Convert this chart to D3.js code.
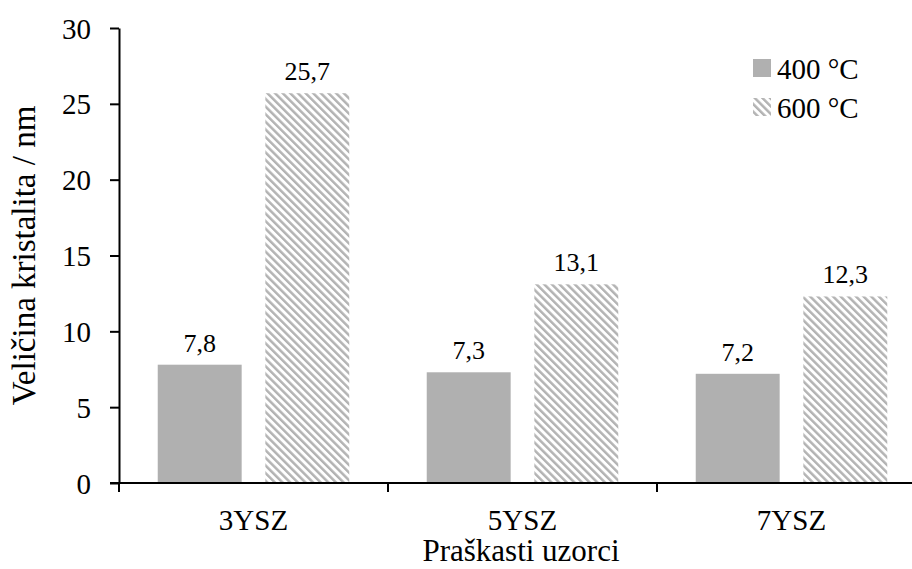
<!DOCTYPE html>
<head>
<meta charset="utf-8">
<style>
body { margin: 0; background: #fff; }
svg text { font-family: "Liberation Serif", "Times New Roman", serif; fill: #000; }
.axis path, .axis line { stroke: #000; stroke-width: 2; }
.axis text { font-size: 29px; }
</style>
</head>
<body>
<svg id="chart"></svg>
<script src="https://d3js.org/d3.v7.min.js"></script>
<script>
/* global d3 */

const samples = ['3YSZ', '5YSZ', '7YSZ']
const series = ['400 °C', '600 °C']
const values400 = [7.8, 7.3, 7.2]
const values600 = [25.7, 13.1, 12.3]
const yTicks = [0, 5, 10, 15, 20, 25, 30]

const width = 912, height = 569
const plot = {left: 119, right: 926, top: 28, bottom: 483}

const svg = d3.select('#chart')
  .attr('width', width)
  .attr('height', height)

// hatch for the 600 °C bars
const defs = svg.append('defs')
defs.append('pattern')
    .attr('id', 'hatch')
    .attr('patternUnits', 'userSpaceOnUse')
    .attr('width', 5.4)
    .attr('height', 10)
    .attr('patternTransform', 'rotate(-45)')
  .append('rect')
    .attr('width', 2.5)
    .attr('height', 10)
    .attr('fill', '#b3b3b3')

const x = d3.scaleBand()
  .domain(samples)
  .range([plot.left, plot.right])

const xInner = d3.scaleBand()
  .domain(series)
  .range([0, x.bandwidth()])
  .paddingInner(0.22)
  .paddingOuter(0.36)

const y = d3.scaleLinear()
  .domain([0, 30])
  .range([plot.bottom, plot.top])

const fills = {'400 °C': '#b0b0b0', '600 °C': 'url(#hatch)'}

const rows = samples.map((s, i) => ({sample: s, values: [
  {key: '400 °C', value: values400[i]},
  {key: '600 °C', value: values600[i]}
]}))

const groups = svg.append('g')
  .selectAll('g')
  .data(rows)
  .enter()
  .append('g')
    .attr('transform', d => `translate(${x(d.sample)}, 0)`)

groups.selectAll('rect')
  .data(d => d.values)
  .enter()
  .append('rect')
    .attr('x', d => xInner(d.key))
    .attr('y', d => y(d.value))
    .attr('width', xInner.bandwidth())
    .attr('height', d => y(0) - y(d.value))
    .attr('fill', d => fills[d.key])

groups.selectAll('text')
  .data(d => d.values)
  .enter()
  .append('text')
    .attr('x', d => xInner(d.key) + xInner.bandwidth() / 2)
    .attr('y', d => y(d.value) - 13)
    .attr('text-anchor', 'middle')
    .style('font-size', '26px')
    .text(d => String(d.value).replace('.', ','))

// y axis
const yAxis = svg.append('g')
  .attr('class', 'axis')
  .attr('transform', `translate(${plot.left}, 0)`)
  .call(d3.axisLeft(y).tickValues(yTicks).tickSize(9).tickSizeOuter(0).tickPadding(19))
yAxis.selectAll('text').attr('dy', '0.35em')

// x axis: ticks between categories
const xAxis = svg.append('g')
  .attr('class', 'axis')
  .attr('transform', `translate(0, ${plot.bottom})`)
xAxis.append('line')
  .attr('x1', plot.left - 9)
  .attr('x2', plot.right)
xAxis.selectAll('.tick')
  .data(samples)
  .enter()
  .append('line')
    .attr('x1', d => x(d))
    .attr('x2', d => x(d))
    .attr('y2', 9)
xAxis.selectAll('text')
  .data(samples)
  .enter()
  .append('text')
    .attr('x', d => x(d) + x.bandwidth() / 2)
    .attr('y', 47)
    .attr('text-anchor', 'middle')
    .text(d => d)

// axis titles
svg.append('text')
  .attr('x', 521)
  .attr('y', 561)
  .attr('text-anchor', 'middle')
  .style('font-size', '31px')
  .text('Praškasti uzorci')

svg.append('text')
  .attr('transform', `translate(35, ${(plot.top + plot.bottom) / 2}) rotate(-90)`)
  .attr('text-anchor', 'middle')
  .style('font-size', '33px')
  .text('Veličina kristalita / nm')

// legend
const legend = svg.append('g')
  .attr('transform', 'translate(753, 59)')
const item = legend.selectAll('g')
  .data(series)
  .enter()
  .append('g')
    .attr('transform', (d, i) => `translate(0, ${i * 39})`)
item.append('rect')
  .attr('width', 18)
  .attr('height', 18)
  .attr('fill', d => fills[d])
item.append('text')
  .attr('x', 24)
  .attr('y', 20)
  .style('font-size', '29px')
  .text(d => d)
</script>
</body>
